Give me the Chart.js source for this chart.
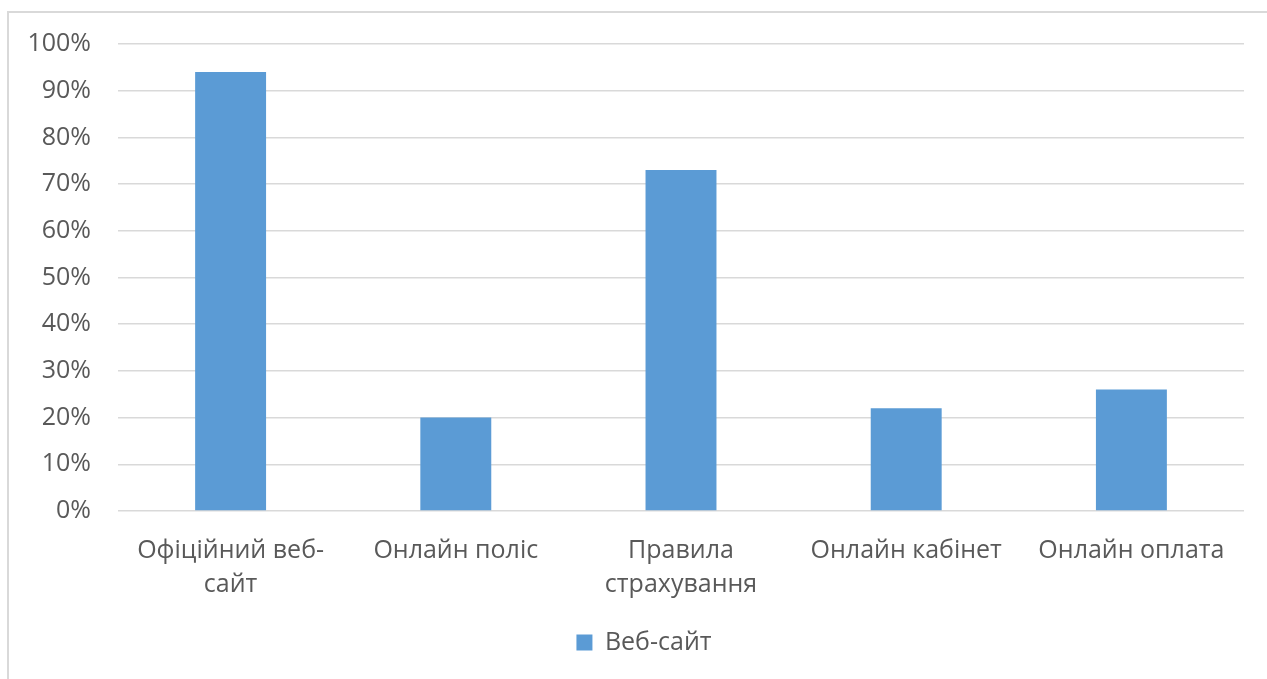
<!DOCTYPE html>
<html>
<head>
<meta charset="utf-8">
<script src="https://cdn.jsdelivr.net/npm/chart.js@4/dist/chart.umd.min.js"></script>
<style>
  html, body { margin: 0; padding: 0; background: #ffffff; }
  #wrap { position: relative; width: 1267px; height: 679px; overflow: hidden; }
  #frame { position: absolute; left: 7px; top: 11px; width: 1300px; height: 700px; border-left: 2px solid #d9d9d9; border-top: 2px solid #d9d9d9; box-sizing: border-box; }
  canvas { position: absolute; left: 0; top: 0; }
</style>
</head>
<body>
<div id="wrap">
  <div id="frame"></div>
  <canvas id="c" width="1267" height="679"></canvas>
</div>
<script>
const categories = [["Офіційний веб-", "сайт"], "Онлайн поліс", ["Правила", "страхування"], "Онлайн кабінет", "Онлайн оплата"];
const seriesName = "Веб-сайт";
const values = [94, 20, 73, 22, 26];
const yTicks = [0, 10, 20, 30, 40, 50, 60, 70, 80, 90, 100];

const FONT = "'Open Sans', 'Noto Sans', sans-serif";
const TEXT = "#595959";

const legendShift = {
  id: "legendShift",
  afterLayout(chart) {
    const lg = chart.legend;
    if (lg) { lg.left += 22; lg.right += 22; }
  }
};

new Chart(document.getElementById("c"), {
  type: "bar",
  data: {
    labels: categories,
    datasets: [{
      label: seriesName,
      data: values,
      backgroundColor: "#5b9bd5",
      borderWidth: 0,
      barPercentage: 0.315,
      categoryPercentage: 1
    }]
  },
  options: {
    responsive: false,
    animation: false,
    layout: { padding: { left: 0, right: 23, top: 44, bottom: 14 } },
    scales: {
      x: {
        grid: { display: false },
        border: { display: false },
        ticks: { color: TEXT, font: { family: FONT, size: 25, lineHeight: 1.36 }, padding: 15, maxRotation: 0, autoSkip: false },
        afterFit: (s) => { s.height = 109; }
      },
      y: {
        min: 0, max: 100,
        afterBuildTicks: (s) => { s.ticks = yTicks.map(v => ({ value: v })); },
        grid: { color: "#d9d9d9", lineWidth: 1.5, drawTicks: false },
        border: { display: false },
        ticks: { color: TEXT, font: { family: FONT, size: 25 }, padding: 27, callback: (v) => v + "%" },
        afterFit: (s) => { s.width = 118; }
      }
    },
    plugins: {
      legend: {
        position: "bottom",
        labels: { color: TEXT, font: { family: FONT, size: 25 }, boxWidth: 16, boxHeight: 16, padding: 10 }
      },
      tooltip: { enabled: false }
    }
  },
  plugins: [legendShift]
});
</script>
</body>
</html>
